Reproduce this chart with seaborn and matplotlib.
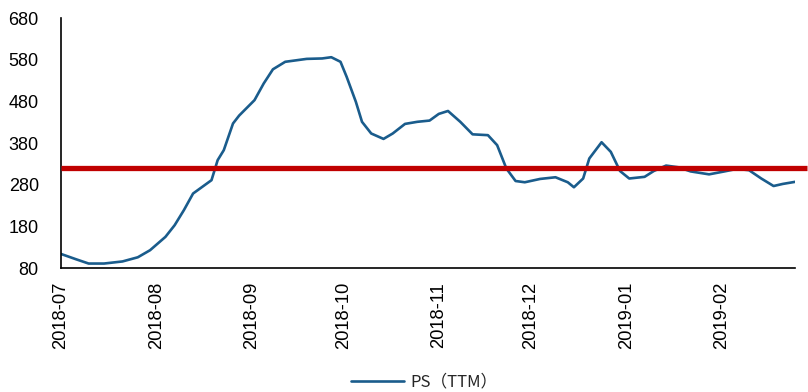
import matplotlib
matplotlib.use("Agg")
import matplotlib.pyplot as plt
import matplotlib.dates as mdates
import pandas as pd
import seaborn as sns

# PS (TTM) valuation series
dates = [
    "2018-07-01", "2018-07-06", "2018-07-10", "2018-07-15", "2018-07-21", "2018-07-26",
    "2018-07-30", "2018-08-04", "2018-08-07", "2018-08-10", "2018-08-13", "2018-08-16",
    "2018-08-19", "2018-08-20", "2018-08-21", "2018-08-23", "2018-08-26", "2018-08-28",
    "2018-09-02", "2018-09-05", "2018-09-08", "2018-09-12", "2018-09-19", "2018-09-24",
    "2018-09-27", "2018-09-30", "2018-10-02", "2018-10-05", "2018-10-07", "2018-10-10",
    "2018-10-14", "2018-10-17", "2018-10-21", "2018-10-25", "2018-10-29", "2018-11-01",
    "2018-11-04", "2018-11-08", "2018-11-12", "2018-11-17", "2018-11-20", "2018-11-23",
    "2018-11-26", "2018-11-29", "2018-12-04", "2018-12-09", "2018-12-13", "2018-12-15",
    "2018-12-18", "2018-12-20", "2018-12-24", "2018-12-27", "2018-12-30", "2019-01-02",
    "2019-01-07", "2019-01-10", "2019-01-14", "2019-01-18", "2019-01-22", "2019-01-28",
    "2019-02-02", "2019-02-06", "2019-02-10", "2019-02-14", "2019-02-18", "2019-02-21",
    "2019-02-25",
]
ps_ttm = [
    114, 101, 91, 91, 96, 106,
    123, 155, 183, 219, 259, 275,
    291, 315, 339, 363, 427, 446,
    483, 523, 557, 575, 582, 583,
    586, 575, 539, 479, 431, 403,
    390, 403, 426, 431, 434, 450,
    457, 431, 401, 399, 375, 319,
    289, 286, 294, 298, 286, 274,
    295, 343, 382, 359, 313, 295,
    299, 313, 326, 322, 312, 305,
    312, 318, 315, 295, 277, 282,
    287,
]
mean_level = 320
series_label = "PS（TTM）"

y_ticks = [80, 180, 280, 380, 480, 580, 680]

df = pd.DataFrame({"date": pd.to_datetime(dates), "value": ps_ttm})

sns.set_theme(style="white")
plt.rcParams["font.family"] = ["Liberation Sans", "DejaVu Sans"]

fig = plt.figure(figsize=(8.08, 3.92), dpi=100)
ax = fig.add_axes([0.0755, 0.316, 0.9085, 0.638])

sns.lineplot(data=df, x="date", y="value", ax=ax, color="#1A5C8C",
             linewidth=1.9, label=series_label, legend=False)
for ln in ax.get_lines():
    ln.set_solid_joinstyle("round")
    ln.set_solid_capstyle("round")

x0 = pd.Timestamp("2018-07-01")
x1 = pd.Timestamp("2019-02-25")
ax.set_xlim(x0, x1)
ax.set_ylim(80, 680)
ax.set_yticks(y_ticks)

# mean reference line, running across the full plot width
ax.plot([x0, pd.Timestamp("2019-03-01")], [mean_level, mean_level],
        color="#C00000", linewidth=3.8, solid_capstyle="butt",
        clip_on=False, zorder=3)

ax.xaxis.set_major_locator(mdates.MonthLocator())
ax.xaxis.set_major_formatter(mdates.DateFormatter("%Y-%m"))
ax.tick_params(axis="x", rotation=90, labelsize=13.2, direction="in",
               length=4, width=1, color="black", pad=10)
ax.tick_params(axis="y", labelsize=13, direction="in", length=4,
               width=1, color="black", pad=16)
for lbl in ax.get_xticklabels() + ax.get_yticklabels():
    lbl.set_color("black")

ax.set_xlabel("")
ax.set_ylabel("")
for side in ["top", "right"]:
    ax.spines[side].set_visible(False)
for side in ["left", "bottom"]:
    ax.spines[side].set_visible(True)
    ax.spines[side].set_color("black")
    ax.spines[side].set_linewidth(1.2)

handles, labels = ax.get_legend_handles_labels()
fig.legend(handles, labels, loc="lower center", bbox_to_anchor=(0.525, -0.035),
           frameon=False, handlelength=3.2, handletextpad=0.4,
           prop={"family": ["Noto Sans CJK SC", "DejaVu Sans"], "size": 12})

fig.savefig("out.png", dpi=100)
